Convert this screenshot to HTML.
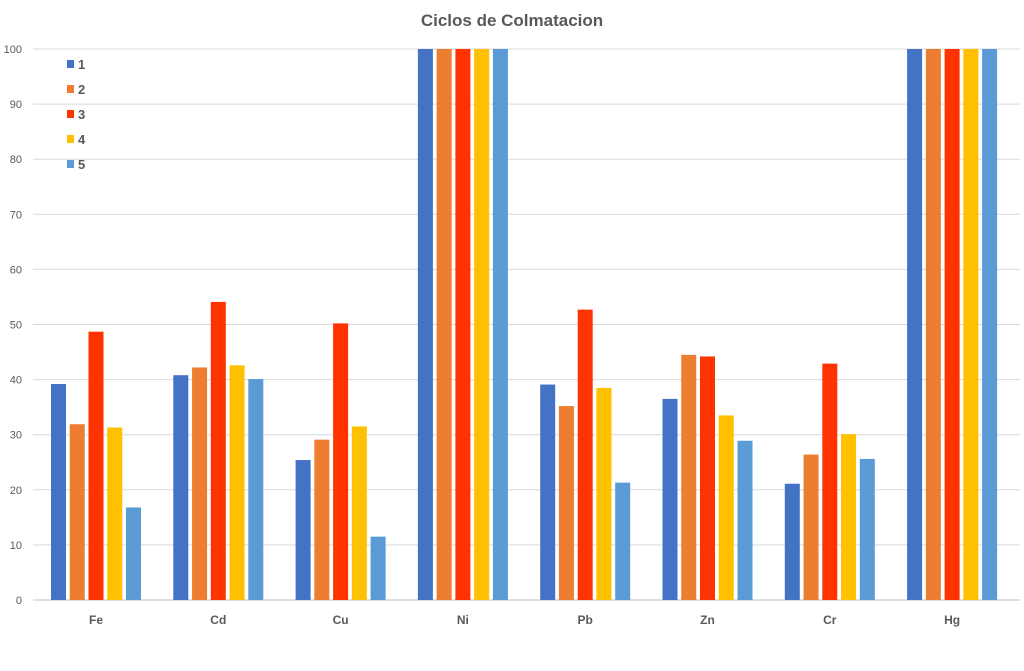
<!DOCTYPE html><html><head><style>body{margin:0;background:#fff}svg{display:block}text{font-family:"Liberation Sans",sans-serif}</style></head><body>
<svg id="s" width="1024" height="671" xmlns="http://www.w3.org/2000/svg">
<text x="512" y="26" text-anchor="middle" font-size="17" font-weight="bold" fill="#595959">Ciclos de Colmatacion</text>
<g id="g"></g>
</svg>
<script>
const s=document.getElementById('g');let h='';
const Y=v=>600-5.51*v;
for(let i=0;i<=10;i++){const y=Y(i*10);h+=`<line x1="33" x2="1020" y1="${y}" y2="${y}" stroke="${i?'#d9d9d9':'#bfbfbf'}" stroke-width="1"/><text x="22" y="${y+4}" font-size="11" fill="#595959" text-anchor="end">${i*10}</text>`;}
const c=['#4472c4','#ed7d31','#ff3300','#ffc000','#5b9bd5'];
const n=['Fe','Cd','Cu','Ni','Pb','Zn','Cr','Hg'];
const d=[[39.2,31.9,48.7,31.3,16.8],[40.8,42.2,54.1,42.6,40.1],[25.4,29.1,50.2,31.5,11.5],[100,100,100,100,100],[39.1,35.2,52.7,38.5,21.3],[36.5,44.5,44.2,33.5,28.9],[21.1,26.4,42.9,30.1,25.6],[100,100,100,100,100]];
d.forEach((g,i)=>{const cx=96+122.3*i;g.forEach((v,j)=>{const x=cx-45+18.75*j;h+=`<rect x="${x}" y="${Y(v)}" width="15" height="${600-Y(v)}" fill="${c[j]}"/>`;});h+=`<text x="${cx}" y="624" font-size="12" font-weight="bold" fill="#595959" text-anchor="middle">${n[i]}</text>`;});
c.forEach((col,j)=>{const y=64+25*j;h+=`<rect x="67" y="${y-4}" width="7" height="8" fill="${col}"/><text x="78" y="${y+5}" font-size="13" font-weight="bold" fill="#595959">${j+1}</text>`;});
s.innerHTML=h;
</script></body></html>
